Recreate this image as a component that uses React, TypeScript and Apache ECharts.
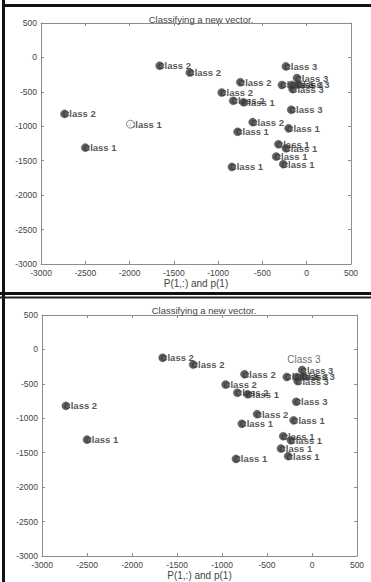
import React, { useEffect, useRef } from 'react';
import * as echarts from 'echarts';

// Training vectors (x, y, class label)
const pointX = [-1660, -1320, -750, -960, -830, -715, -2735, -610, -780, -2500, -845, -235, -110, -280, -170, -95, -160, -175, -205, -320, -235, -345, -265];
const pointY = [-120, -220, -360, -510, -630, -650, -820, -940, -1080, -1310, -1590, -130, -300, -400, -400, -390, -460, -760, -1030, -1260, -1320, -1440, -1550];
const pointClass = ['Class 2', 'Class 2', 'Class 2', 'Class 2', 'Class 2', 'Class 1', 'Class 2', 'Class 2', 'Class 1', 'Class 1', 'Class 1', 'Class 3', 'Class 3', 'Class 3', 'Class 3', 'Class 3', 'Class 3', 'Class 3', 'Class 1', 'Class 1', 'Class 1', 'Class 1', 'Class 1'];

// New vector (top panel: open circle) and bottom panel's classified label
const newVectorTopX = [-1990];
const newVectorTopY = [-970];
const newVectorTopClass = ['Class 1'];
const newVectorBottomX = [-275];
const newVectorBottomY = [-150];
const newVectorBottomClass = ['Class 3'];
// index of the point not drawn in the bottom panel
const bottomHiddenIndex = [11];

const axisMin = -3000;
const axisMax = 500;
const axisStep = 500;
const titleText = 'Classifying a new vector.';
const xLabelText = 'P(1,:) and p(1)';

const FONT = '"Liberation Sans", Arial, sans-serif';
const AXIS_COLOR = '#8c8c8c';

export default function App() {
  const ref = useRef<HTMLDivElement>(null);
  useEffect(() => {
    document.body.style.margin = '0';
    const chart = echarts.init(ref.current!, null, { renderer: 'svg' });

    const grids = [
      { left: 41, top: 23, width: 310, height: 241 },
      { left: 42, top: 315, width: 315, height: 241 },
    ];

    const tickLabel = {
      show: true,
      color: '#444',
      fontSize: 8.5,
      fontFamily: FONT,
      margin: 4,
      formatter: (v: number) => String(v),
    };

    const baseAxis = (extra: any) => ({
      type: 'value',
      min: axisMin,
      max: axisMax,
      interval: axisStep,
      splitLine: { show: false },
      axisLine: { show: true, onZero: false, lineStyle: { color: AXIS_COLOR, width: 1 } },
      axisTick: { show: true, inside: true, length: 3, lineStyle: { color: AXIS_COLOR } },
      axisLabel: { show: false },
      ...extra,
    });

    const xAxes: any[] = [];
    const yAxes: any[] = [];
    grids.forEach((_, gi) => {
      xAxes.push(
        baseAxis({
          gridIndex: gi,
          position: 'bottom',
          axisLabel: tickLabel,
          name: xLabelText,
          nameLocation: 'middle',
          nameGap: 14,
          nameTextStyle: { color: '#444', fontSize: 10, fontFamily: FONT },
        })
      );
      xAxes.push(baseAxis({ gridIndex: gi, position: 'top' }));
      yAxes.push(baseAxis({ gridIndex: gi, position: 'left', axisLabel: tickLabel }));
      yAxes.push(baseAxis({ gridIndex: gi, position: 'right' }));
    });

    const labelCfg = {
      show: true,
      position: ['50%', '50%'],
      offset: [-2, 0],
      align: 'left',
      verticalAlign: 'middle',
      color: '#2a2a2a',
      fontSize: 9.5,
      fontWeight: 'bold',
      fontFamily: FONT,
      formatter: (p: any) => p.name,
    };

    const mkData = (xs: number[], ys: number[], names: string[], skip: number[] = []) =>
      xs
        .map((x, i) => ({ name: names[i], value: [x, ys[i]], i }))
        .filter((d) => !skip.includes(d.i))
        .map(({ name, value }) => ({ name, value }));

    const dotStyle = { color: '#383838', borderColor: '#555', borderWidth: 0.6 };
    const DOT = 8;

    const series: any[] = [];
    // top panel
    series.push({
      type: 'scatter',
      xAxisIndex: 0,
      yAxisIndex: 0,
      z: 2,
      symbolSize: DOT,
      itemStyle: { color: 'transparent' },
      label: labelCfg,
      data: [
        ...mkData(pointX, pointY, pointClass),
        ...mkData(newVectorTopX, newVectorTopY, newVectorTopClass),
      ],
    });
    series.push({
      type: 'scatter',
      xAxisIndex: 0,
      yAxisIndex: 0,
      z: 3,
      symbolSize: DOT,
      itemStyle: dotStyle,
      data: mkData(pointX, pointY, pointClass),
    });
    series.push({
      type: 'scatter',
      xAxisIndex: 0,
      yAxisIndex: 0,
      z: 3,
      symbolSize: DOT,
      itemStyle: { color: '#ffffff', borderColor: '#6a6a6a', borderWidth: 1 },
      data: mkData(newVectorTopX, newVectorTopY, newVectorTopClass),
    });
    // bottom panel
    series.push({
      type: 'scatter',
      xAxisIndex: 2,
      yAxisIndex: 2,
      z: 2,
      symbolSize: DOT,
      itemStyle: { color: 'transparent' },
      label: labelCfg,
      data: mkData(pointX, pointY, pointClass, bottomHiddenIndex),
    });
    series.push({
      type: 'scatter',
      xAxisIndex: 2,
      yAxisIndex: 2,
      z: 2,
      symbolSize: 2,
      itemStyle: { color: 'transparent' },
      label: { ...labelCfg, offset: [0, 0], color: '#444', fontSize: 10, fontWeight: 'normal' },
      data: mkData(newVectorBottomX, newVectorBottomY, newVectorBottomClass),
    });
    series.push({
      type: 'scatter',
      xAxisIndex: 2,
      yAxisIndex: 2,
      z: 3,
      symbolSize: DOT,
      itemStyle: dotStyle,
      data: mkData(pointX, pointY, pointClass, bottomHiddenIndex),
    });

    chart.setOption({
      animation: false,
      backgroundColor: '#ffffff',
      title: [
        {
          text: titleText,
          left: 196,
          top: 9,
          textAlign: 'center',
          textStyle: { color: '#444', fontSize: 9.5, fontWeight: 'normal', fontFamily: FONT },
        },
        {
          text: titleText,
          left: 199,
          top: 300,
          textAlign: 'center',
          textStyle: { color: '#444', fontSize: 9.5, fontWeight: 'normal', fontFamily: FONT },
        },
      ],
      grid: grids.map((g) => ({ ...g, containLabel: false })),
      xAxis: xAxes,
      yAxis: yAxes,
      series,
      graphic: [
        { type: 'rect', shape: { x: 2, y: 0, width: 3, height: 582 }, style: { fill: '#111' }, z: 10 },
        { type: 'rect', shape: { x: 2, y: 4, width: 369, height: 3 }, style: { fill: '#111' }, z: 10 },
        { type: 'rect', shape: { x: 0, y: 292, width: 371, height: 3 }, style: { fill: '#111' }, z: 10 },
        { type: 'rect', shape: { x: 0, y: 296.5, width: 371, height: 2 }, style: { fill: '#222' }, z: 10 },
      ],
    });

    return () => chart.dispose();
  }, []);
  return <div ref={ref} style={{ width: 371, height: 582 }} />;
}
